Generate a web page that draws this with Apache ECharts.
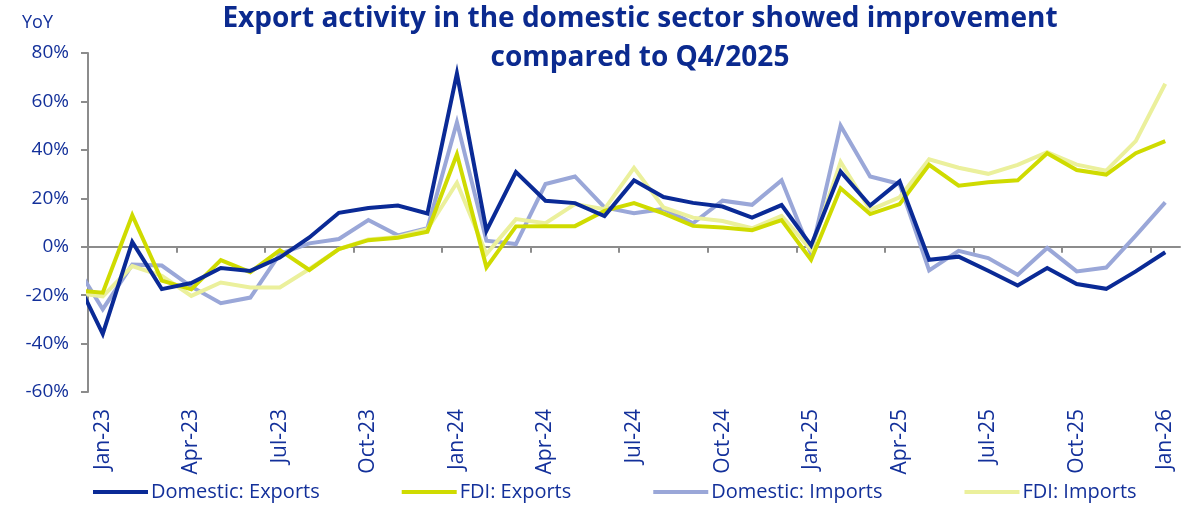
<!DOCTYPE html>
<html>
<head>
<meta charset="utf-8">
<script src="https://cdn.jsdelivr.net/npm/echarts@6/dist/echarts.min.js"></script>
<style>
html,body{margin:0;padding:0;background:#fff;}
#chart{width:1196px;height:506px;}
</style>
</head>
<body>
<div id="chart"></div>
<script>
// Months: Dec-22 (partly visible at left edge) through Jan-26
const months = ['Dec-22','Jan-23','Feb-23','Mar-23','Apr-23','May-23','Jun-23','Jul-23','Aug-23','Sep-23','Oct-23','Nov-23','Dec-23',
  'Jan-24','Feb-24','Mar-24','Apr-24','May-24','Jun-24','Jul-24','Aug-24','Sep-24','Oct-24','Nov-24','Dec-24',
  'Jan-25','Feb-25','Mar-25','Apr-25','May-25','Jun-25','Jul-25','Aug-25','Sep-25','Oct-25','Nov-25','Dec-25','Jan-26'];

const tickLabels = ['Jan-23','Apr-23','Jul-23','Oct-23','Jan-24','Apr-24','Jul-24','Oct-24','Jan-25','Apr-25','Jul-25','Oct-25','Jan-26'];

const domesticExports = [-11,-36,2,-17.5,-15,-8.8,-10,-4.5,3.8,14,16,17,13.7,
  71.5,6.6,30.8,19,18,12.7,27.4,20.5,18.1,16.6,12,17.2,
  0.5,31,17,27,-5.4,-4.1,-9.9,-16,-8.8,-15.4,-17.4,-10.2,-2.3];

const fdiExports = [-18,-19,13,-14,-17.6,-5.5,-10.5,-1.4,-9.6,-1,2.7,3.7,6.2,
  38.2,-8.5,8.4,8.5,8.5,14.8,18,13.8,8.6,7.9,6.8,11,
  -5.4,24.1,13.5,17.6,33.8,25.2,26.6,27.4,38.6,31.7,29.8,38.6,43.6];

const domesticImports = [-6,-25.8,-7.4,-7.8,-16.5,-23.3,-21,-3,1.4,3.2,11,4.7,7.6,
  51.4,2.5,1.1,25.9,29,16.2,13.8,15.6,9.7,19,17.3,27.4,
  -2.8,50,29,25.9,-9.8,-1.7,-4.7,-11.6,-0.5,-10.2,-8.6,4.6,18.3];

const fdiImports = [-19,-20.5,-8,-12,-20.3,-14.8,-16.8,-16.8,-9.2,-1,3,4,7.2,
  26.4,-3,11.4,9.7,17.6,15.5,32.6,16.2,12,10.6,7.6,12.7,
  -1.3,35,15.2,20.4,36.1,32.6,30.1,33.8,39,33.9,31.4,43.6,67.3];

const seriesNames = ['Domestic: Exports','FDI: Exports','Domestic: Imports','FDI: Imports'];
const seriesColors = ['#0a2a96','#cfdb00','#9aa7d8','#ebf09c'];
const seriesValues = [domesticExports, fdiExports, domesticImports, fdiImports];

const textColor = '#13309a';
const axisGray = '#8c8c8c';
const fontFam = '"Open Sans", Lato, sans-serif';

// x position = month index relative to Jan-23
const toPairs = vals => vals.map((v, i) => [i - 1, v]);
const labelPositions = tickLabels.map(l => months.indexOf(l) - 1);
const tickPositions = labelPositions.slice(1).map(p => p - 0.5);

const chart = echarts.init(document.getElementById('chart'), null, {renderer: 'canvas'});

const order = [2, 3, 1, 0];
chart.setOption({
  animation: false,
  backgroundColor: '#ffffff',
  title: {
    text: 'Export activity in the domestic sector showed improvement\ncompared to Q4/2025',
    left: 640,
    top: 0,
    padding: 0,
    textAlign: 'center',
    textStyle: {
      color: '#0b2a8f',
      fontFamily: fontFam,
      fontWeight: 'bold',
      fontSize: 28,
      lineHeight: 39
    }
  },
  graphic: [{
    type: 'text',
    left: 22,
    top: 14,
    style: {text: 'YoY', fill: textColor, font: '18px ' + fontFam}
  }],
  legend: {
    left: 93,
    top: 482,
    padding: 0,
    itemGap: 82,
    itemWidth: 55,
    itemHeight: 4,
    icon: 'rect',
    data: seriesNames,
    textStyle: {color: textColor, fontFamily: fontFam, fontSize: 20, padding: [0,0,0,-2]}
  },
  grid: {left: 88, right: 16, top: 53, bottom: 114, containLabel: false},
  xAxis: [{
    type: 'value',
    min: -0.5,
    max: 36.5,
    position: 'bottom',
    axisLine: {show: false, onZero: false},
    axisTick: {show: false},
    splitLine: {show: false},
    axisLabel: {
      customValues: labelPositions,
      rotate: 90,
      margin: 17,
      color: textColor,
      fontFamily: fontFam,
      fontSize: 21,
      formatter: v => months[Math.round(v) + 1]
    }
  }, {
    type: 'value',
    min: -0.5,
    max: 36.5,
    position: 'bottom',
    axisLine: {show: true, onZero: true, lineStyle: {color: axisGray, width: 2}},
    axisTick: {show: true, customValues: tickPositions, length: 6, lineStyle: {color: axisGray, width: 2}},
    axisLabel: {show: false},
    splitLine: {show: false}
  }],
  yAxis: {
    type: 'value',
    min: -60,
    max: 80,
    interval: 20,
    axisLine: {show: true, onZero: false, lineStyle: {color: axisGray, width: 2}},
    axisTick: {show: true, length: 7, lineStyle: {color: axisGray, width: 2}},
    splitLine: {show: false},
    axisLabel: {
      color: textColor,
      fontFamily: fontFam,
      fontSize: 19,
      margin: 19,
      formatter: '{value}%'
    }
  },
  series: order.map(k => ({
    name: seriesNames[k],
    type: 'line',
    xAxisIndex: 0,
    data: toPairs(seriesValues[k]),
    showSymbol: false,
    symbol: 'none',
    clip: true,
    color: seriesColors[k],
    lineStyle: {width: 4, color: seriesColors[k], join: 'miter'},
    emphasis: {disabled: true}
  }))
});
</script>
</body>
</html>
